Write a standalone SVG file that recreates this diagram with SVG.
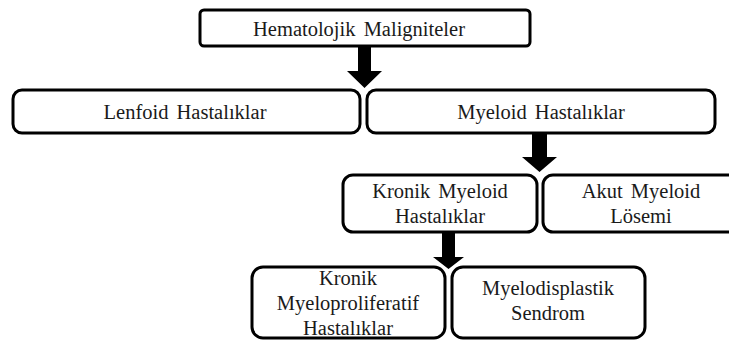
<svg xmlns="http://www.w3.org/2000/svg" width="729" height="340" viewBox="0 0 729 340">
  <style>
    .box { fill: #ffffff; stroke: #000000; stroke-width: 3; }
    .lbl { font-size: 20.5px; fill: #1a1a1a; text-anchor: middle; word-spacing: 3px; }
    .arrow { fill: #000000; }
  </style>
  <rect width="729" height="340" fill="#ffffff"/>

  <g id="connectors">
    <path class="arrow" d="M358,46 H371 V71 H382 L364.5,88 L347,71 H358 Z"/>
    <path class="arrow" d="M532,133 H547 V157 H557 L539.5,172 L522,157 H532 Z"/>
    <path class="arrow" d="M442,232 H455 V257 H464 L448.5,269 L433,257 H442 Z"/>
  </g>

  <g font-family="'Liberation Serif', 'DejaVu Serif', serif">
    <g id="hematolojik">
      <rect class="box" x="200" y="10" width="330" height="36" rx="4"/>
      <text class="lbl" x="359" y="36">Hematolojik Maligniteler</text>
    </g>

    <g id="lenfoid">
      <rect class="box" x="13" y="90" width="347" height="43" rx="9"/>
      <text class="lbl" x="185" y="119">Lenfoid Hastalıklar</text>
    </g>

    <g id="myeloid">
      <rect class="box" x="367" y="90" width="348" height="43" rx="9"/>
      <text class="lbl" x="541" y="119">Myeloid Hastalıklar</text>
    </g>

    <g id="kronik-myeloid">
      <rect class="box" x="343" y="175" width="194" height="57" rx="10"/>
      <text class="lbl" x="440" y="198">Kronik Myeloid</text>
      <text class="lbl" x="440" y="223">Hastalıklar</text>
    </g>

    <g id="akut-myeloid">
      <rect class="box" x="543" y="175" width="196" height="57" rx="10"/>
      <text class="lbl" x="641" y="198">Akut Myeloid</text>
      <text class="lbl" x="641" y="223">Lösemi</text>
    </g>

    <g id="kronik-myeloproliferatif">
      <rect class="box" x="252" y="267" width="193" height="71" rx="11"/>
      <text class="lbl" x="348" y="285">Kronik</text>
      <text class="lbl" x="348" y="310">Myeloproliferatif</text>
      <text class="lbl" x="348" y="335">Hastalıklar</text>
    </g>

    <g id="myelodisplastik">
      <rect class="box" x="452" y="267" width="193" height="71" rx="11"/>
      <text class="lbl" x="548" y="295">Myelodisplastik</text>
      <text class="lbl" x="548" y="320">Sendrom</text>
    </g>
  </g>
</svg>
